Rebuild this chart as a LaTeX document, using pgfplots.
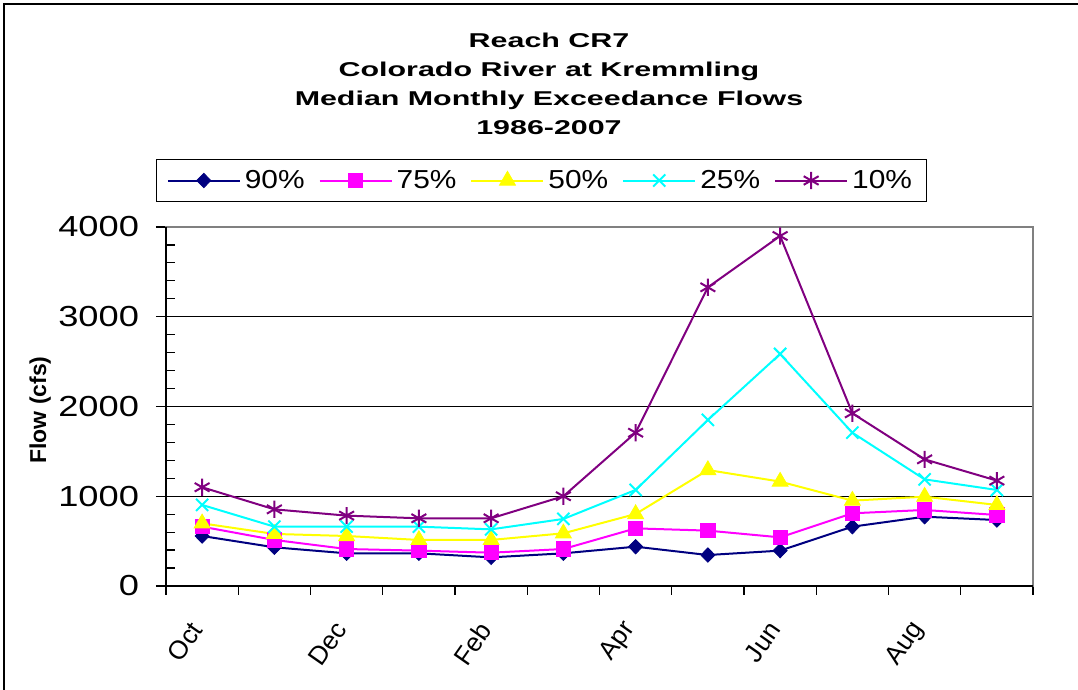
\documentclass[border=0pt]{standalone}
\usepackage{fontspec}
\setmainfont{Liberation Sans}
\newfontfamily\titlefont{Liberation Sans}[FakeStretch=1.52]
\newfontfamily\tickfont{Liberation Sans}[FakeStretch=1.25]
\newfontfamily\legfont{Liberation Sans}[FakeStretch=1.15]
\usepackage{pgfplots}
\usepackage{pgfplotstable}
\pgfplotsset{compat=1.18}

\definecolor{c90}{RGB}{0,0,128}
\definecolor{c75}{RGB}{255,0,255}
\definecolor{c50}{RGB}{255,255,0}
\definecolor{c25}{RGB}{0,255,255}
\definecolor{c10}{RGB}{128,0,128}

% median monthly exceedance flows (cfs), Oct..Sep
\pgfplotstableread{
m  p90 p75 p50  p25  p10
1  557 661 698  903  1100
2  431 513 580  661  854
3  364 412 557  661  784
4  364 394 513  661  754
5  319 371 513  631  754
6  364 412 587  747  1000
7  438 642 802  1070 1708
8  345 617 1292 1850 3328
9  394 542 1163 2585 3900
10 661 810 951  1708 1924
11 772 847 995  1188 1411
12 735 791 903  1070 1174
}\flows

\begin{document}
\begin{tikzpicture}
\useasboundingbox (0pt,0pt) rectangle (539pt,345pt);
\draw[line width=0.8pt] (2pt,0pt) -- (2pt,343pt) -- (539pt,343pt);

\node[align=center, font=\titlefont\bfseries\fontsize{10}{14.5}\selectfont]
  at (274.5pt,303pt) {Reach CR7\\Colorado River at Kremmling\\Median Monthly Exceedance Flows\\1986-2007};

\begin{axis}[
  scale only axis,
  width=433.5pt, height=179.5pt,
  at={(83pt,52pt)}, anchor=south west,
  xmin=0.5, xmax=12.5,
  ymin=0, ymax=4000,
  xtick={1,3,5,7,9,11},
  xticklabels={Oct,Dec,Feb,Apr,Jun,Aug},
  minor xtick={0.5,1.5,...,12.5},
  ytick={0,1000,2000,3000,4000},
  minor y tick num=4,
  xtick pos=bottom, ytick pos=left,
  tick align=outside,
  major tick length=5pt, minor tick length=4.5pt,
  major x tick style={draw=none},
  minor y tick style={xshift=4.5pt},
  every tick/.style={black, line width=0.6pt},
  ymajorgrids,
  major grid style={black, line width=0.5pt},
  axis line style={draw=gray, line width=1pt},
  /pgf/number format/assume math mode=true,
  /pgf/number format/set thousands separator={},
  yticklabel style={font=\tickfont\fontsize{14.5}{16}\selectfont, xshift=-5pt},
  xticklabel style={font=\fontsize{13}{15}\selectfont, rotate=55, anchor=east, yshift=-6pt, xshift=-10pt},
  ylabel={Flow (cfs)},
  ylabel style={font=\bfseries\fontsize{11.5}{13}\selectfont, at={(rel axis cs:-0.145,0.49)}, anchor=center},
  legend columns=5,
  legend style={at={(0.433,1.1295)}, anchor=center, draw=black, line width=0.5pt,
    font=\legfont\fontsize{13}{15}\selectfont, inner xsep=5pt, inner ysep=3pt,
    /tikz/every even column/.append style={column sep=5pt}},
  legend image code/.code={\draw[mark repeat=2,mark phase=2] plot coordinates {(0pt,0pt) (18pt,0pt) (36pt,0pt)};},
  every axis plot/.append style={line width=1pt},
  clip=false,
]
\draw[black, line width=1pt] (rel axis cs:0,1) -- (rel axis cs:0,0) -- (rel axis cs:1,0);
\addplot[c90, mark=diamond*, mark size=3.6pt, mark options={solid, fill=c90, line width=0.4pt, xscale=1.3}] table[x=m, y=p90] {\flows};
\addlegendentry{90\%}
\addplot[c75, mark=square*, mark size=3.6pt, mark options={solid, fill=c75, line width=0.4pt}] table[x=m, y=p75] {\flows};
\addlegendentry{75\%}
\addplot[c50, mark=triangle*, mark size=4.6pt, mark options={solid, fill=c50, line width=0.4pt}] table[x=m, y=p50] {\flows};
\addlegendentry{50\%}
\addplot[c25, mark=x, mark size=4.3pt, mark options={solid, line width=1pt}] table[x=m, y=p25] {\flows};
\addlegendentry{25\%}
\addplot[c10, mark=asterisk, mark size=4.3pt, mark options={solid, line width=1pt}] table[x=m, y=p10] {\flows};
\addlegendentry{10\%}
\end{axis}
\end{tikzpicture}
\end{document}
